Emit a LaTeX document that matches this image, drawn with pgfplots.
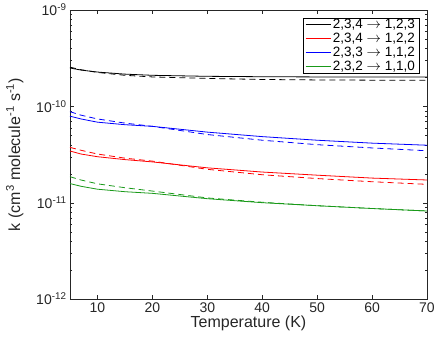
\documentclass[border=0pt]{standalone}
\usepackage{pgfplots}
\pgfplotsset{compat=1.18}
\usepackage{fontspec}
\setmainfont{Liberation Sans}
\definecolor{mgreen}{rgb}{0.1,0.6,0.1}
\definecolor{axgray}{rgb}{0.15,0.15,0.15}

\begin{document}
\begin{tikzpicture}
\begin{axis}[
  scale only axis, width=357pt, height=289pt,
  ymode=log, xmin=5, xmax=70, ymin=1e-12, ymax=1e-9,
  xtick={10,20,...,70},
  ytick={1e-12,1e-11,1e-10,1e-9},
  yticklabels={10\textsuperscript{-12},10\textsuperscript{-11},10\textsuperscript{-10},10\textsuperscript{-9}},
  minor ytick={2e-12,3e-12,4e-12,5e-12,6e-12,7e-12,8e-12,9e-12,
               2e-11,3e-11,4e-11,5e-11,6e-11,7e-11,8e-11,9e-11,
               2e-10,3e-10,4e-10,5e-10,6e-10,7e-10,8e-10,9e-10},
  /pgf/number format/assume math mode=true,
  tick align=inside,
  major tick length=4pt, minor tick length=2.5pt,
  axis line style={axgray}, tick style={axgray},
  tick label style={font=\fontsize{14}{15}\selectfont, text=axgray},
  xlabel={Temperature (K)},
  ylabel={k (cm\textsuperscript{3} molecule\textsuperscript{-1} s\textsuperscript{-1})},
  label style={font=\fontsize{16}{18}\selectfont, text=axgray},
  xlabel style={yshift=3pt},
  ylabel style={yshift=6pt},
  legend cell align=left,
  legend style={at={(rel axis cs:0.978,0.972)}, anchor=north east,
    draw=black, line width=0.5pt, fill=white,
    font=\fontsize{13.5}{14}\selectfont,
    inner xsep=2pt, inner ysep=1pt, row sep=3pt,
    nodes={inner ysep=0pt}},
  legend image code/.code={\draw[#1, line width=0.8pt] (0pt,0pt) -- (25pt,0pt);},
]
% solid
\addplot[black, line width=0.8pt] coordinates {
 (5,2.50e-10) (7,2.38e-10) (10,2.27e-10) (15,2.16e-10) (20,2.10e-10)
 (30,2.05e-10) (40,2.03e-10) (50,2.02e-10) (60,2.02e-10) (70,2.02e-10)};
\addlegendentry{2,3,4 $\rightarrow$ 1,2,3}
\addplot[red, line width=0.8pt] coordinates {
 (5,3.44e-11) (7,3.20e-11) (10,3.00e-11) (15,2.80e-11) (20,2.65e-11)
 (30,2.30e-11) (40,2.08e-11) (50,1.93e-11) (60,1.80e-11) (70,1.72e-11)};
\addlegendentry{2,3,4 $\rightarrow$ 1,2,2}
\addplot[blue, line width=0.8pt] coordinates {
 (5,7.90e-11) (7,7.40e-11) (10,6.85e-11) (15,6.45e-11) (20,6.20e-11)
 (30,5.40e-11) (40,4.85e-11) (50,4.45e-11) (60,4.15e-11) (70,3.95e-11)};
\addlegendentry{2,3,3 $\rightarrow$ 1,1,2}
\addplot[mgreen, line width=0.8pt] coordinates {
 (5,1.58e-11) (7,1.48e-11) (10,1.38e-11) (15,1.30e-11) (20,1.25e-11)
 (30,1.10e-11) (40,1.00e-11) (50,0.93e-11) (60,0.87e-11) (70,0.82e-11)};
\addlegendentry{2,3,2 $\rightarrow$ 1,1,0}
% dashed
\addplot[black, line width=0.8pt, dash pattern=on 6pt off 4pt, forget plot] coordinates {
 (5,2.55e-10) (7,2.40e-10) (10,2.25e-10) (15,2.10e-10) (20,2.02e-10)
 (30,1.95e-10) (40,1.90e-10) (50,1.88e-10) (60,1.87e-10) (70,1.87e-10)};
\addplot[red, line width=0.8pt, dash pattern=on 6pt off 4pt, forget plot] coordinates {
 (5,3.75e-11) (7,3.50e-11) (10,3.20e-11) (15,2.90e-11) (20,2.70e-11)
 (30,2.22e-11) (40,1.95e-11) (50,1.78e-11) (60,1.65e-11) (70,1.55e-11)};
\addplot[blue, line width=0.8pt, dash pattern=on 6pt off 4pt, forget plot] coordinates {
 (5,8.80e-11) (7,8.10e-11) (10,7.40e-11) (15,6.70e-11) (20,6.20e-11)
 (30,5.10e-11) (40,4.45e-11) (50,4.00e-11) (60,3.70e-11) (70,3.46e-11)};
\addplot[mgreen, line width=0.8pt, dash pattern=on 6pt off 4pt, forget plot] coordinates {
 (5,1.86e-11) (7,1.72e-11) (10,1.57e-11) (15,1.43e-11) (20,1.32e-11)
 (30,1.12e-11) (40,1.01e-11) (50,0.93e-11) (60,0.87e-11) (70,0.82e-11)};
\end{axis}
\pgfresetboundingbox
\path[use as bounding box] (-70pt,-40pt) rectangle (366pt,299pt);
\end{tikzpicture}
\end{document}
